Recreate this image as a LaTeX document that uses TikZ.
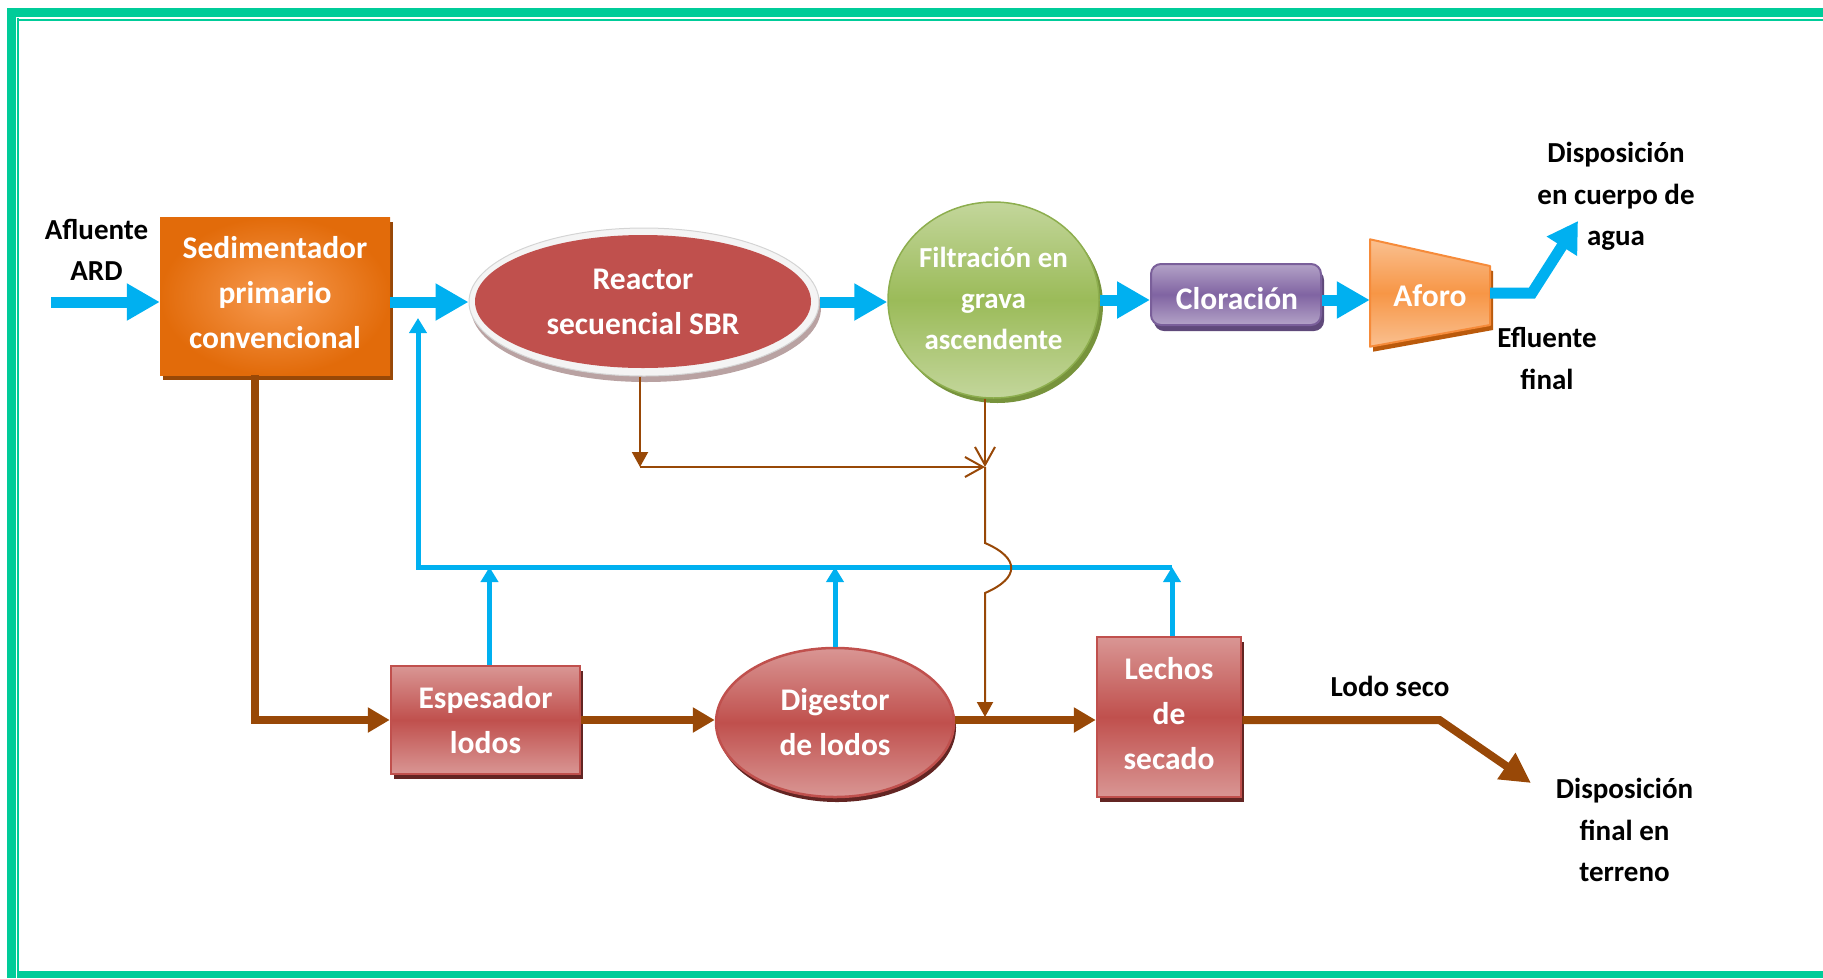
\documentclass[tikz,border=0pt]{standalone}
\usepackage{fontspec}
\setmainfont{Carlito}
\usetikzlibrary{arrows.meta,shapes.geometric,shadows,calc}
\definecolor{bgreen}{HTML}{00CC99}
\definecolor{fblue}{HTML}{00B0F0}
\definecolor{sbrown}{HTML}{984807}
\definecolor{sedlight}{HTML}{F79A50}
\definecolor{seddark}{HTML}{E26B0A}
\definecolor{sedshadow}{HTML}{984807}
\definecolor{reactred}{HTML}{C0504D}
\definecolor{rimwhite}{HTML}{F4F4F4}
\definecolor{rimgray}{HTML}{D4D4D4}
\definecolor{rimshadow}{HTML}{B9A2A2}
\definecolor{filtlight}{HTML}{C3D69B}
\definecolor{filtmid}{HTML}{9BBB59}
\definecolor{filtedge}{HTML}{8DAE4E}
\definecolor{filtshadow}{HTML}{77933C}
\definecolor{clorlight}{HTML}{B3A2C7}
\definecolor{clormid}{HTML}{8064A2}
\definecolor{cloredge}{HTML}{7A5F9A}
\definecolor{clorshadow}{HTML}{5F497A}
\definecolor{aflight}{HTML}{FAC090}
\definecolor{afmid}{HTML}{F79646}
\definecolor{afedge}{HTML}{F68B3A}
\definecolor{afshadow}{HTML}{BA5A0C}
\definecolor{redlight}{HTML}{D99694}
\definecolor{redmid}{HTML}{C0504D}
\definecolor{redshadow}{HTML}{632523}
\tikzset{
  whitetxt/.style={text=white, font=\fontsize{31.5}{45}\selectfont\bfseries, align=center, inner sep=0pt},
  blacktxt/.style={text=black, font=\fontsize{29}{41.5}\selectfont\bfseries, align=center, inner sep=0pt},
  bigflow/.style={draw=fblue, line width=11pt, -{Triangle[length=33pt,width=35pt]}},
  thinflow/.style={draw=fblue, line width=5pt, -{Triangle[length=15pt,width=17pt]}},
  sludge/.style={draw=sbrown, line width=8pt, -{Triangle[length=22pt,width=24pt]}},
  drain/.style={draw=sbrown, line width=2pt},
  redbox/.style={whitetxt, top color=redlight, bottom color=redlight, middle color=redmid, draw=redmid, line width=2.5pt},
  shadowr/.style={drop shadow={shadow xshift=3pt, shadow yshift=-5pt, fill=redshadow, opacity=1}}
}
\begin{document}
\begin{tikzpicture}[x=1pt,y=-1pt]
\useasboundingbox (0,0) rectangle (1823,978);
% frame
\fill[bgreen] (7,8) rectangle (1823,17);
\fill[bgreen] (7,8) rectangle (16,978);
\fill[bgreen] (16.7,17.7) rectangle (19,971);
\fill[bgreen] (18.3,18.7) rectangle (1823,20.7);
\fill[bgreen] (16.7,971) rectangle (1823,978);

% coordinates
\coordinate (in1) at (51,302);
\coordinate (fbL) at (418,567);
\coordinate (fbR) at (1172,567);
\coordinate (fbTip) at (418,318);
\coordinate (rjoin) at (640,467);
\coordinate (mjoin) at (985,467);
\coordinate (jumpA) at (985,543);
\coordinate (jumpB) at (985,593);
\coordinate (djoin) at (985,717);
\coordinate (bend1) at (1532,293);
\coordinate (out1) at (1578,221);
\coordinate (lbend) at (1439.5,720);
\coordinate (lout) at (1531,783);

% process nodes
\node[minimum width=230pt, minimum height=158pt, inner color=sedlight, outer color=seddark,
  drop shadow={shadow xshift=3pt, shadow yshift=-5pt, fill=sedshadow, opacity=1}] (sed) at (275,296) {};
\node[whitetxt] (sedtext) at (275,293) {Sedimentador\\primario\\convencional};

\node[ellipse, minimum width=350pt, minimum height=148pt, inner sep=0pt, fill=rimwhite, draw=rimgray, line width=1pt,
  drop shadow={shadow xshift=2pt, shadow yshift=-6pt, fill=rimshadow, opacity=1}] (reactor) at (644,302) {};
\node[ellipse, whitetxt, minimum width=336pt, minimum height=133pt, fill=reactred] (reactorin) at (643,301.5)
  {Reactor\\secuencial SBR};

\node[ellipse, inner sep=0pt, minimum width=211pt, minimum height=196pt,
  top color=filtlight, bottom color=filtlight, middle color=filtmid, draw=filtedge, line width=1.5pt,
  drop shadow={shadow xshift=4pt, shadow yshift=-5pt, fill=filtshadow, opacity=1}] (filt) at (993.5,300) {};
\node[whitetxt, font=\fontsize{29}{41}\selectfont\bfseries] (filttext) at (993.5,298) {Filtración en\\grava\\ascendente};

\node[rounded corners=10pt, minimum width=170pt, minimum height=61pt,
  top color=clorlight, bottom color=clorlight, middle color=clormid, draw=cloredge, line width=2pt,
  drop shadow={shadow xshift=3pt, shadow yshift=-6pt, fill=clorshadow, opacity=1}] (clor) at (1236,294.5) {};
\node[whitetxt] (clortext) at (1237,299) {Cloración};

\fill[afshadow] (1373,244.3) -- (1493,271) -- (1493,330) -- (1373,351.7) -- cycle;
\path[top color=aflight, bottom color=aflight, middle color=afmid] (1370,239.3) -- (1490,266) -- (1490,325) -- (1370,346.7) -- cycle;
\draw[afedge, line width=2pt, line join=round] (1370,239.3) -- (1490,266) -- (1490,325) -- (1370,346.7) -- cycle;
\node[whitetxt, minimum width=120pt, minimum height=107pt] (aforo) at (1430,295.5) {Aforo};

\node[redbox, shadowr, minimum width=189pt, minimum height=108pt] (esp) at (485.5,720) {Espesador\\lodos};
\node[redbox, ellipse, inner sep=0pt, minimum width=238pt, minimum height=149pt,
  drop shadow={shadow xshift=2pt, shadow yshift=-5pt, fill=redshadow, opacity=1}] (dig) at (835,722.5) {Digestor\\de lodos};
\node[redbox, shadowr, minimum width=144pt, minimum height=160pt] (lech) at (1169,717) {};
\node[whitetxt] (lechtext) at (1169,714) {Lechos\\de\\secado};

% labels
\node[blacktxt] (afl) at (96.5,250) {Afluente\\ARD};
\node[blacktxt] (disp1) at (1616,196.3) {Disposición\\en cuerpo de\\agua};
\node[blacktxt] (efl) at (1547,358.5) {Efluente\\final};
\node[blacktxt] (lodo) at (1390,686) {Lodo seco};
\node[blacktxt] (disp2) at (1624.5,830) {Disposición\\final en\\terreno};

% main water flow
\draw[bigflow] (in1) -- (in1 -| sed.west);
\draw[bigflow] (sed.east |- reactor.west) -- (reactor.west);
\draw[bigflow] (reactor.east) -- (reactor.east -| filt.west);
\draw[bigflow] (filt.east) -- (filt.east -| clor.west);
\draw[bigflow] (clor.east |- filt.east) -- (aforo.west |- filt.east);
\draw[bigflow, -{Triangle[length=30pt,width=34pt]}] (aforo.east |- bend1) -- (bend1) -- (out1);

% return liquor
\draw[thinflow] (fbR) -- (fbL) -- (fbTip);
\draw[thinflow] ([xshift=4pt]esp.north) -- ([xshift=4pt]esp.north |- fbL);
\draw[thinflow] (dig.north) -- (dig.north |- fbL);
\draw[thinflow] ([xshift=3pt]lech.north) -- ([xshift=3pt]lech.north |- fbL);

% sludge line
\draw[sludge] ([xshift=-20.5pt]sed.south) |- (esp.west);
\draw[sludge] (esp.east) -- (esp.east -| dig.west);
\draw[sludge] (dig.east |- esp.east) -- (lech.west |- esp.east);
\draw[sludge, -{Triangle[length=30pt,width=30pt]}] (lech.east |- esp.east) -- (lbend) -- (lout);

% purge lines
\draw[drain, -{Triangle[length=15pt,width=16pt]}] ([xshift=-4pt]reactor.south) -- (rjoin);
\draw[drain, -{Straight Barb[length=18pt,width=20pt]}] (rjoin) -- (mjoin);
\draw[drain, -{Straight Barb[length=18pt,width=20pt]}] (mjoin |- filt.south) -- (mjoin);
\draw[drain, -{Triangle[length=15pt,width=16pt]}] (mjoin) -- (jumpA) .. controls +(35,15) and +(35,-15) .. (jumpB) -- (djoin);
\end{tikzpicture}
\end{document}
